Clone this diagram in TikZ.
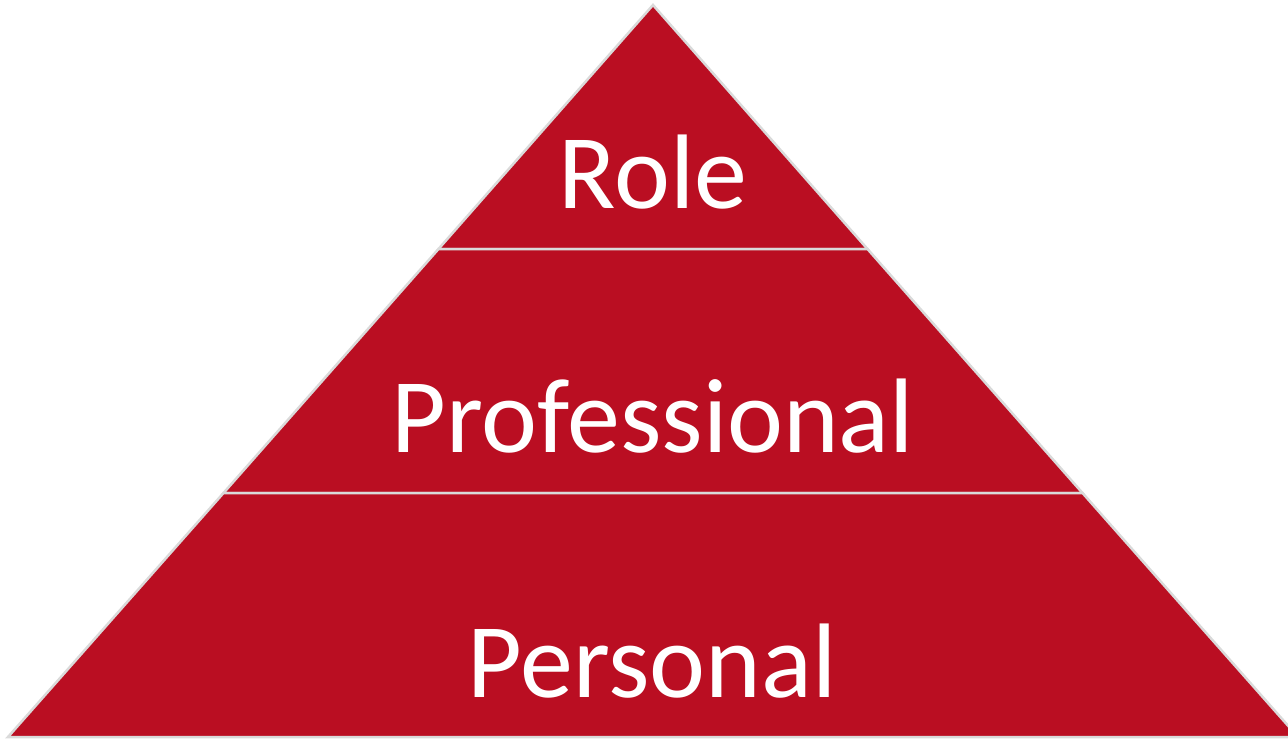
\documentclass[tikz,border=0pt]{standalone}
\usepackage{fontspec}
\setmainfont{Carlito}
\definecolor{pyrred}{RGB}{186,14,34}
\definecolor{pyredge}{RGB}{218,218,218}
\tikzset{
  band/.style={fill=pyrred, draw=pyredge, line width=2.5pt, line join=miter},
  lbl/.style={text=white, anchor=base, inner sep=0pt, font=\fontsize{106}{106}\selectfont}
}
\begin{document}
\begin{tikzpicture}[x=1pt,y=-1pt]
\useasboundingbox (0,0) rectangle (1288,739);
\clip (0,0) rectangle (1288,739);
\coordinate (apex) at (653,5);
\coordinate (l1) at (438.5,249);
\coordinate (r1) at (867.5,249);
\coordinate (l2) at (223.5,493);
\coordinate (r2) at (1082.5,493);
\coordinate (l3) at (8,737);
\coordinate (r3) at (1298,737);
\path[band] (apex) -- (r1) -- (l1) -- cycle;
\path[band] (l1) -- (r1) -- (r2) -- (l2) -- cycle;
\path[band] (l2) -- (r2) -- (r3) -- (l3) -- cycle;
\node[lbl] (role) at (653,208) {Role};
\node[lbl] (prof) at (653,452) {Professional};
\node[lbl] (pers) at (652,697) {Personal};
\end{tikzpicture}
\end{document}
